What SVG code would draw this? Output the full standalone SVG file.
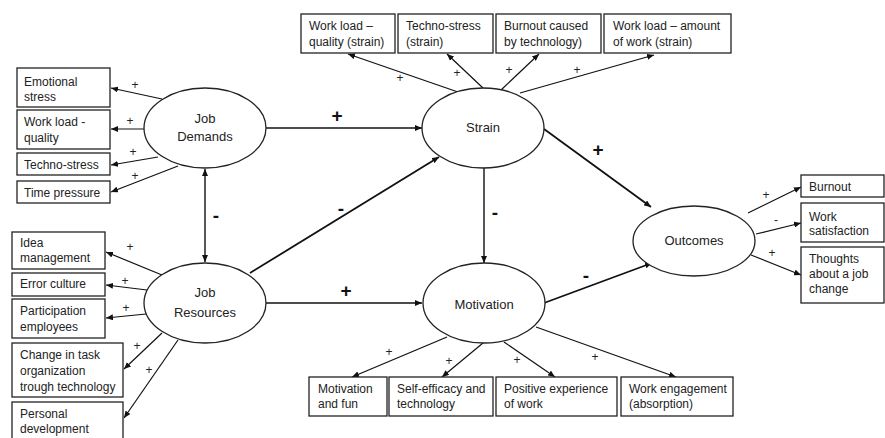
<svg xmlns="http://www.w3.org/2000/svg" width="885" height="438" viewBox="0 0 885 438">
<defs>
<marker id="ah" viewBox="0 0 10 10" refX="10" refY="5" markerWidth="7" markerHeight="6" markerUnits="userSpaceOnUse" orient="auto-start-reverse" preserveAspectRatio="none">
<path d="M0,0 L10,5 L0,10 Z" fill="#111"/>
</marker>
</defs>
<style>
.box{fill:#fff;stroke:#222;stroke-width:1.3}
.ell{fill:#fff;stroke:#222;stroke-width:1.3}
.t{font-family:"Liberation Sans",Arial,sans-serif;font-size:12px;fill:#222}
.et{font-family:"Liberation Sans",Arial,sans-serif;font-size:13px;fill:#222;text-anchor:middle}
.c{stroke:#111;stroke-width:1.2;fill:none;marker-end:url(#ah)}
.cb{stroke:#111;stroke-width:1.8;fill:none;marker-end:url(#ah)}
.s{font-family:"Liberation Sans",Arial,sans-serif;font-size:12px;fill:#222;text-anchor:middle}
.sb{font-family:"Liberation Sans",Arial,sans-serif;font-size:19px;font-weight:bold;fill:#111;text-anchor:middle}
</style>
<rect width="885" height="438" fill="#fff"/>

<g id="connectors">
<line class="c" x1="162" y1="99" x2="111" y2="88"/>
<line class="c" x1="144" y1="129" x2="111" y2="129"/>
<line class="c" x1="158" y1="157" x2="111" y2="165"/>
<line class="c" x1="178" y1="166" x2="111" y2="192"/>
<text class="s" x="135" y="89">+</text>
<text class="s" x="130" y="125">+</text>
<text class="s" x="133" y="156">+</text>
<text class="s" x="135" y="180">+</text>
<line class="c" x1="162" y1="275" x2="106" y2="252"/>
<line class="c" x1="147" y1="290" x2="106" y2="285"/>
<line class="c" x1="146" y1="314" x2="106" y2="318"/>
<line class="c" x1="162" y1="333" x2="124" y2="369"/>
<line class="c" x1="178" y1="340" x2="124" y2="418"/>
<text class="s" x="130" y="251">+</text>
<text class="s" x="125" y="285">+</text>
<text class="s" x="126" y="312">+</text>
<text class="s" x="137" y="350">+</text>
<text class="s" x="149" y="374">+</text>
<line class="c" x1="458" y1="92" x2="348" y2="54"/>
<line class="c" x1="483" y1="88" x2="447" y2="54"/>
<line class="c" x1="501" y1="90" x2="539" y2="54"/>
<line class="c" x1="520" y1="93" x2="654" y2="55"/>
<text class="s" x="400" y="82">+</text>
<text class="s" x="457" y="77">+</text>
<text class="s" x="509" y="74">+</text>
<text class="s" x="577" y="74">+</text>
<line class="c" x1="447" y1="337" x2="352" y2="377"/>
<line class="c" x1="483" y1="343" x2="442" y2="377"/>
<line class="c" x1="504" y1="342" x2="555" y2="377"/>
<line class="c" x1="536" y1="327" x2="676" y2="377"/>
<text class="s" x="389" y="356">+</text>
<text class="s" x="449" y="365">+</text>
<text class="s" x="517" y="364">+</text>
<text class="s" x="595" y="361">+</text>
<line class="c" x1="748" y1="213" x2="801" y2="187"/>
<line class="c" x1="756" y1="234" x2="801" y2="223"/>
<line class="c" x1="751" y1="255" x2="801" y2="275"/>
<text class="s" x="766" y="199">+</text>
<text class="s" x="776" y="224">-</text>
<text class="s" x="772" y="257">+</text>
<line class="c" x1="266" y1="128" x2="422" y2="128" style="stroke-width:1.4"/>
<line class="c" x1="266" y1="303" x2="422" y2="303" style="stroke-width:1.4"/>
<line class="c" x1="205" y1="169" x2="205" y2="262" style="stroke-width:1.4;marker-start:url(#ah)"/>
<line class="cb" x1="250" y1="273" x2="439" y2="157"/>
<line class="c" x1="484" y1="168" x2="484" y2="263" style="stroke-width:1.4"/>
<line class="cb" x1="544" y1="129" x2="651" y2="207"/>
<line class="cb" x1="544" y1="303" x2="652" y2="263"/>
<text class="sb" x="337" y="122">+</text>
<text class="sb" x="346" y="297">+</text>
<text class="sb" x="216" y="222">-</text>
<text class="sb" x="341" y="215">-</text>
<text class="sb" x="495" y="219">-</text>
<text class="sb" x="598" y="156">+</text>
<text class="sb" x="586" y="282">-</text>
</g>

<g id="job-demands">
<ellipse class="ell" cx="205" cy="128" rx="61" ry="40"/>
<text class="et" x="205" y="123">Job</text>
<text class="et" x="205" y="141">Demands</text>
</g>
<g id="job-resources">
<ellipse class="ell" cx="205" cy="303" rx="61" ry="40"/>
<text class="et" x="205" y="297">Job</text>
<text class="et" x="205" y="317">Resources</text>
</g>
<g id="strain">
<ellipse class="ell" cx="483" cy="128" rx="61" ry="40"/>
<text class="et" x="483" y="132">Strain</text>
</g>
<g id="motivation">
<ellipse class="ell" cx="484" cy="303" rx="61" ry="40"/>
<text class="et" x="484" y="309">Motivation</text>
</g>
<g id="outcomes">
<ellipse class="ell" cx="694" cy="241" rx="61" ry="35"/>
<text class="et" x="694" y="245">Outcomes</text>
</g>

<g id="emotional-stress"><rect class="box" x="17" y="68" width="93" height="39"/><text class="t" x="24" y="86">Emotional</text><text class="t" x="24" y="101">stress</text></g>
<g id="work-load-quality"><rect class="box" x="17" y="110" width="93" height="39"/><text class="t" x="24" y="126">Work load -</text><text class="t" x="24" y="142">quality</text></g>
<g id="techno-stress"><rect class="box" x="17" y="153" width="93" height="22"/><text class="t" x="24" y="169">Techno-stress</text></g>
<g id="time-pressure"><rect class="box" x="17" y="181" width="93" height="22"/><text class="t" x="24" y="197">Time pressure</text></g>

<g id="idea-management"><rect class="box" x="12" y="232" width="93" height="37"/><text class="t" x="20" y="247">Idea</text><text class="t" x="20" y="262">management</text></g>
<g id="error-culture"><rect class="box" x="12" y="273" width="93" height="23"/><text class="t" x="20" y="288">Error culture</text></g>
<g id="participation"><rect class="box" x="12" y="299" width="93" height="39"/><text class="t" x="20" y="315">Participation</text><text class="t" x="20" y="331">employees</text></g>
<g id="change-task"><rect class="box" x="12" y="343" width="111" height="54"/><text class="t" x="20" y="359">Change in task</text><text class="t" x="20" y="375">organization</text><text class="t" x="20" y="391">trough technology</text></g>
<g id="personal-development"><rect class="box" x="12" y="402" width="111" height="40"/><text class="t" x="20" y="418">Personal</text><text class="t" x="20" y="433">development</text></g>

<g id="wl-quality-strain"><rect class="box" x="301" y="14" width="94" height="39"/><text class="t" x="309" y="30">Work load –</text><text class="t" x="309" y="46">quality (strain)</text></g>
<g id="techno-stress-strain"><rect class="box" x="398" y="14" width="95" height="39"/><text class="t" x="406" y="30">Techno-stress</text><text class="t" x="406" y="46">(strain)</text></g>
<g id="burnout-tech"><rect class="box" x="496" y="14" width="105" height="39"/><text class="t" x="504" y="30">Burnout caused</text><text class="t" x="504" y="46">by technology)</text></g>
<g id="wl-amount-strain"><rect class="box" x="604" y="14" width="127" height="39"/><text class="t" x="613" y="30">Work load – amount</text><text class="t" x="613" y="46">of work (strain)</text></g>

<g id="burnout"><rect class="box" x="801" y="175" width="83" height="22"/><text class="t" x="809" y="191">Burnout</text></g>
<g id="work-satisfaction"><rect class="box" x="801" y="203" width="83" height="39"/><text class="t" x="809" y="221">Work</text><text class="t" x="809" y="235">satisfaction</text></g>
<g id="job-change"><rect class="box" x="801" y="247" width="83" height="56"/><text class="t" x="809" y="263">Thoughts</text><text class="t" x="809" y="278">about a job</text><text class="t" x="809" y="293">change</text></g>

<g id="motivation-fun"><rect class="box" x="309" y="377" width="78" height="39"/><text class="t" x="318" y="393">Motivation</text><text class="t" x="318" y="408">and fun</text></g>
<g id="self-efficacy"><rect class="box" x="389" y="377" width="104" height="39"/><text class="t" x="397" y="393">Self-efficacy and</text><text class="t" x="397" y="408">technology</text></g>
<g id="positive-experience"><rect class="box" x="496" y="377" width="121" height="39"/><text class="t" x="504" y="393">Positive experience</text><text class="t" x="504" y="408">of work</text></g>
<g id="work-engagement"><rect class="box" x="621" y="377" width="112" height="39"/><text class="t" x="629" y="393">Work engagement</text><text class="t" x="629" y="408">(absorption)</text></g>
</svg>
